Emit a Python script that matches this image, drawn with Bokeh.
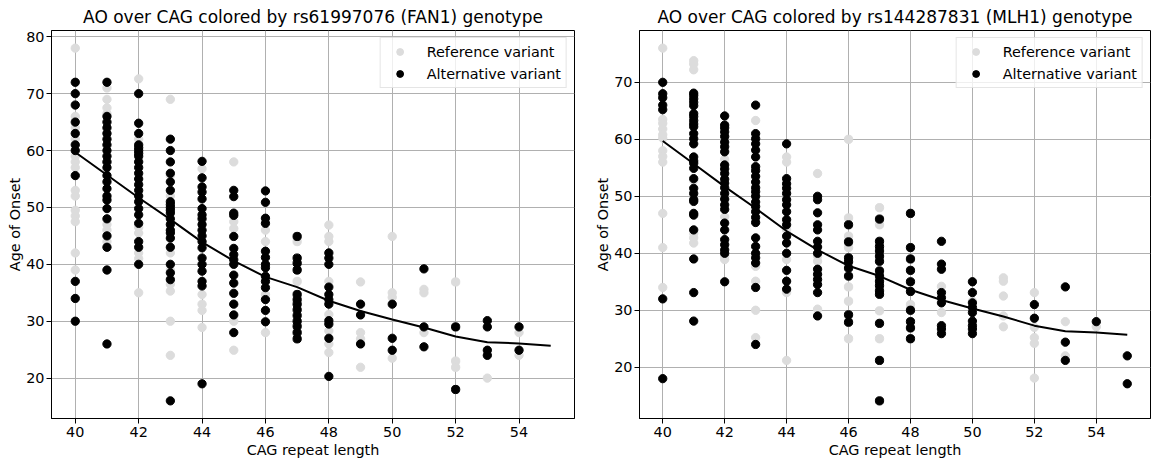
from bokeh.plotting import figure
from bokeh.layouts import row
from bokeh.models import Range1d, FixedTicker, Legend, LegendItem
from bokeh.embed import file_html
from bokeh.resources import INLINE

# ---------------- data ----------------
cag_line = [40, 41, 42, 43, 44, 45, 46, 47, 48, 49, 50, 51, 52, 53, 54, 55]
ao_line = [59.7, 55.7, 51.7, 47.9, 43.9, 40.6, 37.8, 36.0, 33.6, 31.8, 30.3, 28.9, 27.3, 26.3, 26.1, 25.7]

fan1_ref = {
    40: [78, 66, 64, 62, 59, 58, 57, 53, 52, 49.5, 48.5, 47.5, 42, 39],
    41: [71, 69, 67.5, 66.5, 63, 58, 47, 46, 44],
    42: [72.6, 62, 58, 46.5, 45.5, 42, 41, 35],
    43: [69, 55.6, 52, 42, 39, 37.5, 36.5, 35.3, 30, 24],
    44: [56.8, 34.7, 33, 31.9, 28.9],
    45: [58, 47.5, 46.3, 30, 24.9],
    46: [46, 44, 34.7, 28],
    47: [44, 37, 28],
    48: [46.9, 44.9, 44, 37, 31.2, 28.3, 26, 24.5],
    49: [36.9, 28, 26.9, 21.9],
    50: [44.9, 35, 34.2, 23.5],
    51: [35.6, 35, 28],
    52: [36.9, 23, 21.9],
    53: [20],
    54: [28, 24],
}
fan1_alt = {
    40: [72, 70, 68, 65, 63, 61, 60, 55.6, 37, 34, 30],
    41: [72, 66, 65, 64, 63, 62, 61, 60, 59, 58, 57, 55.6, 54.5, 53.3, 52, 51.3, 49.8, 48, 45, 43, 39, 26],
    42: [70, 64.8, 63, 61, 60.5, 60, 59.5, 59, 58, 57, 56, 55, 54, 53, 52, 51, 49.8, 48.7, 47.2, 44, 43, 40],
    43: [62, 60, 58, 56, 54.5, 53, 51, 50.5, 50, 49.5, 49, 48, 47, 46, 45.5, 44.6, 43, 40, 38.5, 37.3, 16],
    44: [58.1, 55.2, 53.6, 52.7, 51.5, 49.8, 48.7, 48, 47, 46, 45, 44, 42.9, 41.1, 40, 38.8, 37, 36.2, 19],
    45: [53, 51.9, 49, 48.6, 44.9, 42.8, 41.7, 40.8, 40, 38.1, 36.7, 34.9, 33, 31.1, 28],
    46: [52.9, 50.9, 48.1, 47.2, 42.3, 41.2, 40, 39.4, 37.9, 37, 35.9, 33.8, 31.9, 29.9],
    47: [44.9, 41.1, 40.2, 39, 34.7, 33.8, 33, 32, 31, 30, 29.1, 28, 26.9],
    48: [42, 41.1, 40, 36, 34.7, 33.8, 33, 30.1, 29.5, 27, 20.3],
    49: [33, 31.1, 26],
    50: [33, 27, 24.9],
    51: [39.2, 29, 25.5],
    52: [29, 18],
    53: [30.1, 29, 24.9, 24],
    54: [29, 24.9],
}

mlh1_ref = {
    40: [76, 63.5, 62.8, 61.8, 60.8, 60.2, 58, 57, 56, 47, 41, 34],
    41: [73.8, 73.2, 72.2, 52.8, 43.5, 42.7, 41.8],
    42: [58, 56.5, 46.4, 39.5, 38.9],
    43: [63.3, 37.7, 35.1, 30, 25.2],
    44: [56.9, 56, 44.1, 38.9, 33.1, 21.2],
    45: [54, 39.5, 38.6, 30.2],
    46: [60, 46.2, 43, 41, 34.1, 31.6, 25],
    47: [48, 45, 29.9, 25],
    48: [31],
    49: [34.2, 29.6],
    50: [31.6],
    51: [35.7, 35.1, 32.5, 29, 27.1],
    52: [33.1, 27, 25.2, 24.2, 18.1],
    53: [28, 22],
    54: [27.1],
}
mlh1_alt = {
    40: [70, 68, 67.3, 66, 65.2, 32, 18],
    41: [68.1, 67.7, 67.1, 66.5, 65.9, 64.5, 64, 63.3, 62.7, 62.2, 61, 60.1, 59.2, 56.9, 56.2, 55.8, 54.9,
         53.1, 51.4, 50.5, 49.4, 49.1, 47, 46.7, 44.1, 39, 33.1, 28.1],
    42: [64.1, 62.5, 62, 61.3, 60.5, 59.5, 58.7, 57.8, 55.5, 54.8, 54, 53, 52.3, 51.5, 50.5, 49.5, 48.5,
         47.7, 45.3, 44.1, 42.4, 41.5, 40.6, 40, 35],
    43: [66, 61, 60.1, 59.2, 58.1, 56.9, 55.2, 54.5, 53.5, 52.5, 51.5, 50.8, 50, 49, 48.2, 47.3, 46.3,
         45.4, 42.7, 41.2, 40, 39.2, 38.3, 34, 24],
    44: [59.2, 53.1, 52.2, 51.4, 50.5, 49.4, 48.5, 47.3, 45.9, 45, 43, 41.8, 40, 37, 35.1, 33.7],
    45: [50, 49.4, 47.1, 45, 44.1, 42.1, 41.1, 40, 37.2, 36.3, 35.4, 34.5, 33.1, 29],
    46: [45, 42, 39.2, 38.5, 37.4, 36, 29.2, 27.9],
    47: [46, 42.1, 41.2, 40.4, 39.5, 38.6, 36.9, 36, 35.1, 34.3, 33.4, 32.8, 27.7, 21.2, 14.1],
    48: [47, 41, 39, 37, 35, 33.3, 30, 28, 26.9, 25],
    49: [42.1, 38.1, 37.2, 33.1, 32.2, 31.3, 27.3, 26.7, 25.9],
    50: [35, 33.1, 31.3, 30.5, 29.6, 28.1, 27.3, 26.7, 25.9],
    52: [31, 28.6],
    53: [34.1, 24.4, 21.2],
    54: [28],
    55: [22, 17.1],
}

x_ticks = [40, 42, 44, 46, 48, 50, 52, 54]
fan1_y_ticks = [20, 30, 40, 50, 60, 70, 80]
mlh1_y_ticks = [20, 30, 40, 50, 60, 70]

titles = ["AO over CAG colored by rs61997076 (FAN1) genotype",
          "AO over CAG colored by rs144287831 (MLH1) genotype"]
legend_labels = ["Reference variant", "Alternative variant"]

FONT = "DejaVu Sans"
REF_COLOR = "#dcdcdc"
ALT_COLOR = "#000000"


def flatten(d):
    xs, ys = [], []
    for k, vals in d.items():
        for v in vals:
            xs.append(k)
            ys.append(v)
    return xs, ys


def make_panel(title, ref, alt, yticks, frame_w, border_left, border_right):
    xs_all = list(ref) + list(alt) + cag_line
    ys_all = [v for d in (ref, alt) for vals in d.values() for v in vals]
    xmin, xmax = min(xs_all), max(xs_all)
    ymin, ymax = min(ys_all), max(ys_all)
    xpad = (xmax - xmin) * 0.05
    ypad = (ymax - ymin) * 0.05
    p = figure(frame_width=frame_w, frame_height=388, output_backend="svg", toolbar_location=None,
               x_range=Range1d(xmin - xpad, xmax + xpad),
               y_range=Range1d(ymin - ypad, ymax + ypad),
               min_border_left=border_left, min_border_right=border_right,
               min_border_top=22, min_border_bottom=40)
    p.title.text = title
    p.title.align = "center"
    p.title.text_font = FONT
    p.title.text_font_size = "17px"
    p.title.text_font_style = "normal"
    p.title.text_color = "black"
    p.title.offset = 0
    p.title.standoff = 8

    p.outline_line_color = "black"
    p.outline_line_width = 1
    p.outline_line_alpha = 1

    for ax in (p.xaxis[0], p.yaxis[0]):
        ax.major_label_text_font = FONT
        ax.major_label_text_font_size = "14.4px"
        ax.major_label_text_color = "black"
        ax.axis_label_text_font = FONT
        ax.axis_label_text_font_size = "14.4px"
        ax.axis_label_text_font_style = "normal"
        ax.axis_label_text_color = "black"
        ax.major_tick_out = 5
        ax.major_tick_in = 0
        ax.minor_tick_out = 0
        ax.minor_tick_in = 0
        ax.axis_line_color = "black"
        ax.major_tick_line_color = "black"
        ax.major_label_standoff = 3
        ax.axis_label_standoff = 2

    p.xaxis.ticker = FixedTicker(ticks=x_ticks)
    p.yaxis.ticker = FixedTicker(ticks=yticks)
    p.xaxis.axis_label = "CAG repeat length"
    p.yaxis.axis_label = "Age of Onset"
    p.yaxis.axis_label_standoff = 0
    p.yaxis.major_label_standoff = 2

    p.grid.grid_line_color = "#b0b0b0"
    p.grid.grid_line_width = 1

    rx, ry = flatten(ref)
    ax_, ay = flatten(alt)
    r_ref = p.scatter(x=rx, y=ry, size=8.3, marker="circle", fill_color=REF_COLOR, line_color=REF_COLOR)
    r_alt = p.scatter(x=ax_, y=ay, size=8.3, marker="circle", fill_color=ALT_COLOR, line_color=ALT_COLOR)
    p.line(x=cag_line, y=ao_line, line_color="black", line_width=2)

    lg = Legend(items=[LegendItem(label=legend_labels[0], renderers=[r_ref]),
                       LegendItem(label=legend_labels[1], renderers=[r_alt])])
    lg.location = "top_right"
    lg.margin = 7
    lg.padding = 5
    lg.spacing = 5
    lg.label_text_font = FONT
    lg.label_text_font_size = "14.4px"
    lg.label_text_color = "black"
    lg.border_line_color = "#cccccc"
    lg.border_line_width = 1
    lg.background_fill_alpha = 0.8
    lg.glyph_width = 28
    lg.glyph_height = 17
    lg.label_standoff = 13
    lg.label_height = 17
    p.add_layout(lg)
    return p


p1 = make_panel(titles[0], fan1_ref, fan1_alt, fan1_y_ticks, 523, 51, 4)
p2 = make_panel(titles[1], mlh1_ref, mlh1_alt, mlh1_y_ticks, 511, 61, 3)
layout = row(p1, p2)

with open("out.html", "w") as f:
    f.write(file_html(layout, INLINE))
